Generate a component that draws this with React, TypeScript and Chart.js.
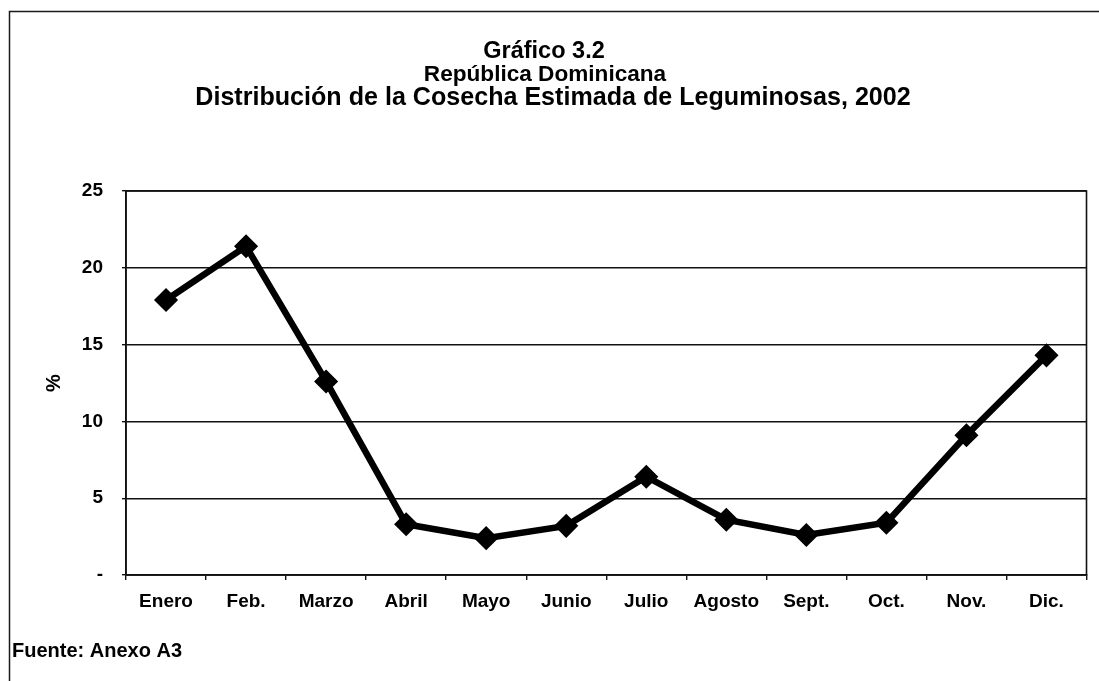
import React, { useEffect, useRef } from "react";
import { Chart, registerables } from "chart.js";

Chart.register(...registerables);

const months = ["Enero", "Feb.", "Marzo", "Abril", "Mayo", "Junio", "Julio", "Agosto", "Sept.", "Oct.", "Nov.", "Dic."];
const harvestShare = [17.9, 21.4, 12.6, 3.3, 2.4, 3.2, 6.4, 3.6, 2.6, 3.4, 9.1, 14.3];
const yMin = 0;
const yMax = 25;
const yStep = 5;
const titleLines = ["Gráfico 3.2", "República Dominicana", "Distribución de la Cosecha Estimada de Leguminosas, 2002"];
const yAxisTitle = "%";
const sourceNote = "Fuente: Anexo A3";

const FONT = "'Liberation Sans', Arial, Helvetica, sans-serif";

// per-line title styling (size in px, centre x, middle y)
const titleStyle = [
  { size: 23.5, x: 544, y: 52 },
  { size: 22.6, x: 545, y: 75 },
  { size: 25.1, x: 553, y: 98 },
];

const decorPlugin = {
  id: "decor",
  beforeDraw(chart: any) {
    const ctx = chart.ctx;
    ctx.save();
    ctx.fillStyle = "#ffffff";
    ctx.fillRect(0, 0, chart.width, chart.height);
    ctx.restore();
  },
  beforeDatasetsDraw(chart: any) {
    const ctx = chart.ctx;
    const { left, top, right, bottom } = chart.chartArea;
    ctx.save();
    ctx.strokeStyle = "#111111";
    ctx.lineWidth = 1.6;
    ctx.strokeRect(left, top, right - left, bottom - top);
    ctx.restore();
  },
  afterDraw(chart: any) {
    const ctx = chart.ctx;
    ctx.save();
    // outer frame
    ctx.strokeStyle = "#1a1a1a";
    ctx.lineWidth = 1.5;
    ctx.beginPath();
    ctx.moveTo(9.5, chart.height);
    ctx.lineTo(9.5, 11.5);
    ctx.lineTo(chart.width, 11.5);
    ctx.stroke();
    // title
    ctx.fillStyle = "#000000";
    ctx.textAlign = "center";
    ctx.textBaseline = "middle";
    titleLines.forEach((line, i) => {
      const s = titleStyle[i];
      ctx.font = `bold ${s.size}px ${FONT}`;
      ctx.fillText(line, s.x, s.y);
    });
    // source note
    ctx.font = `bold 20px ${FONT}`;
    ctx.textAlign = "left";
    ctx.fillText(sourceNote, 12, 651);
    ctx.restore();
  },
};

export default function App() {
  const canvasRef = useRef<HTMLCanvasElement | null>(null);

  useEffect(() => {
    if (!canvasRef.current) return;
    const chart = new Chart(canvasRef.current, {
      type: "line",
      data: {
        labels: months,
        datasets: [
          {
            data: harvestShare,
            borderColor: "#000000",
            backgroundColor: "#000000",
            borderWidth: 6.5,
            tension: 0,
            pointStyle: "rectRot",
            pointRadius: 11,
            pointBorderWidth: 1.5,
            pointBackgroundColor: "#000000",
            pointBorderColor: "#000000",
          },
        ],
      },
      options: {
        animation: false,
        responsive: true,
        maintainAspectRatio: false,
        layout: { padding: { left: 0, right: 12, top: 191, bottom: 0 } },
        plugins: {
          legend: { display: false },
          tooltip: { enabled: false },
          title: { display: false },
        },
        scales: {
          x: {
            type: "category",
            offset: true,
            afterFit: (scale: any) => {
              scale.height = 106;
            },
            grid: {
              display: true,
              offset: true,
              drawOnChartArea: false,
              drawTicks: true,
              tickLength: 5,
              color: "#111111",
              lineWidth: 1.4,
            },
            border: { display: true, color: "#111111", width: 1.6 },
            ticks: {
              color: "#000000",
              font: { family: FONT, size: 19, weight: "bold" },
              padding: 10,
              maxRotation: 0,
              autoSkip: false,
            },
          },
          y: {
            min: yMin,
            max: yMax,
            afterFit: (scale: any) => {
              scale.width = 126;
            },
            grid: {
              color: "#111111",
              lineWidth: 1.4,
              drawTicks: true,
              tickLength: 4,
            },
            border: { display: true, color: "#111111", width: 1.6 },
            ticks: {
              stepSize: yStep,
              color: "#000000",
              font: { family: FONT, size: 19, weight: "bold" },
              padding: 19,
              callback: (v: any) => (Number(v) === 0 ? "-" : String(v)),
            },
            title: {
              display: true,
              text: yAxisTitle,
              color: "#000000",
              font: { family: FONT, size: 20, weight: "bold" },
              padding: { top: 42, bottom: 0 },
            },
          },
        },
      },
      plugins: [decorPlugin],
    });
    return () => chart.destroy();
  }, []);

  return (
    <div style={{ position: "absolute", left: 0, top: 0, width: 1099, height: 681, background: "#ffffff" }}>
      <canvas ref={canvasRef} />
    </div>
  );
}
